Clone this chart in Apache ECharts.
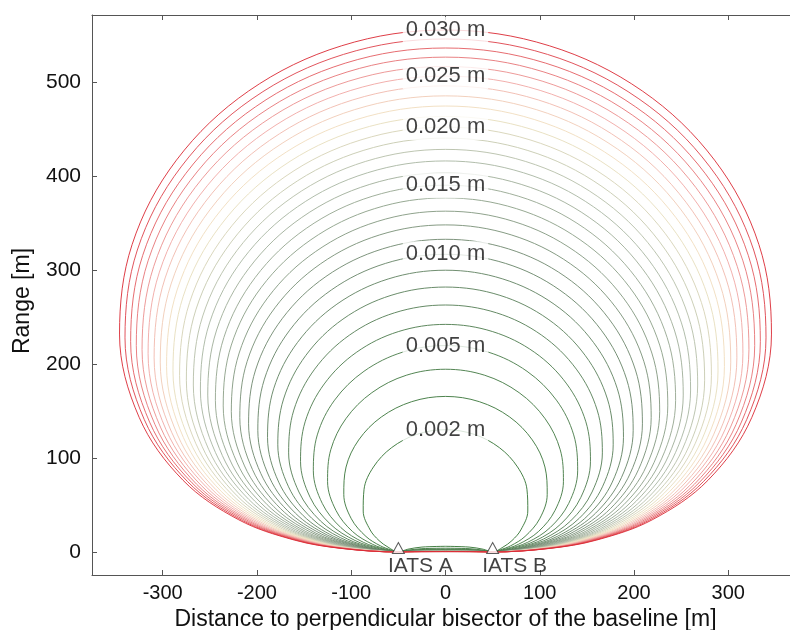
<!DOCTYPE html>
<html><head><meta charset="utf-8">
<script src="https://cdn.jsdelivr.net/npm/echarts@6/dist/echarts.min.js"></script>
<style>html,body{margin:0;padding:0;background:#fff;overflow:hidden}#c{width:790px;height:630px}</style>
</head><body><div id="c"></div>
<script>
// contour levels [m]
const levels = [0.002,0.003,0.004,0.005,0.006,0.007,0.008,0.009,0.010,0.011,0.012,0.013,0.014,0.015,0.016,0.017,0.018,0.019,0.020,0.021,0.022,0.023,0.024,0.025,0.026,0.027,0.028,0.029,0.030];
const labeledLevels = [0.002,0.005,0.010,0.015,0.020,0.025,0.030];
const xTicks = [-300,-200,-100,0,100,200,300];
const yTicks = [0,100,200,300,400,500];
const stationX = [-50, 50];
const stationY = [0, 0];
const stationNames = ['IATS A','IATS B'];
// right half of each contour [x, y] in metres, from the baseline middle to the top
const c002 = [[0,6.0],[25,5.2],[40,2.9],[50,0],[60.9,5.1],[70.5,12.1],[79.9,23.4],[87.3,43.5],[86.4,66.7],[76.4,90.4],[57.2,110.9],[30.6,125.0],[0,130.0]];
const c003 = [[0,4.0],[25,3.5],[40,1.9],[50,0],[57.9,2.2],[69.2,6.6],[84.4,16.5],[99.9,35.3],[107.9,61.2],[105.5,90.3],[92.1,119.1],[68.1,143.5],[35.9,159.8],[0,165.4]];
const c004 = [[0,3.0],[25,2.6],[40,1.4],[50,0],[60.2,2.2],[77.3,8.1],[98.6,21.7],[116.2,44.2],[125.1,74.8],[121.7,108.7],[105.7,141.7],[78.1,169.4],[41.6,187.9],[0,194.3]];
const c005 = [[0,2.4],[25,2.1],[40,1.2],[50,0],[63.7,2.5],[87.2,10.3],[111.1,26.0],[130.7,51.6],[140.2,86.3],[136.0,124.5],[117.7,161.4],[86.5,192.1],[45.7,212.4],[0,219.5]];
const c006 = [[0,2.0],[25,1.7],[40,1.0],[50,0],[55.7,0.7],[70.1,3.4],[96.0,12.2],[122.3,29.7],[143.6,58.1],[153.8,96.4],[148.9,138.4],[128.6,178.7],[94.6,212.2],[50.1,234.3],[0,242.0]];
const c007 = [[0,1.7],[25,1.5],[40,0.8],[50,0],[58.5,1.0],[76.1,4.1],[104.1,13.8],[132.6,32.9],[155.5,63.8],[166.4,105.4],[160.9,150.9],[138.8,194.4],[102.0,230.5],[54.1,254.3],[0,262.6]];
const c008 = [[0,1.5],[25,1.3],[40,0.7],[50,0],[62.0,1.3],[81.6,4.8],[111.7,15.3],[142.0,35.9],[166.5,69.3],[177.9,114.0],[171.8,162.6],[148.1,209.1],[108.8,247.6],[57.7,272.9],[0,281.7]];
const c009 = [[0,1.3],[25,1.2],[40,0.6],[50,0],[60.0,1.0],[86.7,5.4],[118.7,16.6],[150.9,38.6],[176.9,74.2],[188.8,121.8],[182.3,173.5],[157.0,222.8],[115.2,263.5],[60.8,290.3],[0,299.6]];
const c010 = [[0,1.2],[25,1.0],[40,0.6],[50,0],[63.3,1.2],[91.6,6.0],[125.3,17.9],[159.3,41.3],[186.6,79.0],[199.1,129.3],[192.1,183.8],[165.3,235.8],[121.1,278.6],[63.8,306.8],[0,316.5]];
const c011 = [[0,1.1],[25,0.9],[40,0.5],[50,0],[66.5,1.4],[96.2,6.5],[131.6,19.1],[167.3,43.7],[195.9,83.4],[208.9,136.3],[201.5,193.5],[173.3,248.0],[126.9,292.9],[66.8,322.3],[0,332.5]];
const c012 = [[0,1.0],[25,0.9],[40,0.5],[50,0],[69.6,1.6],[100.6,6.9],[137.6,20.1],[174.9,46.0],[204.7,87.5],[218.2,142.9],[210.4,202.7],[180.9,259.7],[132.4,306.5],[69.7,337.2],[0,347.8]];
const c013 = [[0,0.9],[25,0.8],[40,0.4],[50,0],[72.5,1.8],[104.8,7.4],[143.4,21.2],[182.2,48.2],[213.2,91.5],[227.2,149.2],[218.9,211.5],[188.2,270.8],[137.7,319.5],[72.5,351.4],[0,362.4]];
const c014 = [[0,0.9],[25,0.8],[40,0.4],[50,0],[75.3,1.9],[108.9,7.8],[148.9,22.1],[189.2,50.3],[221.3,95.3],[235.8,155.3],[227.2,220.0],[195.3,281.5],[142.8,332.0],[75.2,365.1],[0,376.5]];
const c015 = [[0,0.8],[25,0.7],[40,0.4],[50,0],[78.0,2.1],[112.8,8.2],[154.2,23.1],[196.0,52.3],[229.2,99.0],[244.1,161.1],[235.1,228.1],[202.0,291.7],[147.7,344.1],[77.8,378.2],[0,390.0]];
const c016 = [[0,0.8],[25,0.7],[40,0.4],[50,0],[80.6,2.3],[116.6,8.6],[159.4,24.0],[202.5,54.2],[236.7,102.5],[252.2,166.8],[242.8,236.0],[208.6,301.6],[152.5,355.7],[80.3,390.9],[0,403.1]];
const c017 = [[0,0.7],[25,0.6],[40,0.3],[50,0],[83.1,2.4],[120.2,8.9],[164.4,24.8],[208.8,56.0],[244.1,105.9],[260.0,172.2],[250.3,243.6],[215.0,311.3],[157.1,367.0],[82.8,403.2],[0,415.8]];
const c018 = [[0,0.7],[25,0.6],[40,0.3],[50,0],[85.6,2.5],[123.8,9.3],[169.3,25.7],[215.0,57.8],[251.3,109.2],[267.5,177.5],[257.5,251.0],[221.2,320.6],[161.6,377.9],[85.1,415.2],[0,428.1]];
const c019 = [[0,0.6],[25,0.5],[40,0.3],[50,0],[88.0,2.7],[127.2,9.6],[174.0,26.5],[221.0,59.6],[258.3,112.4],[274.9,182.6],[264.6,258.2],[227.2,329.7],[166.0,388.6],[87.4,426.9],[0,440.1]];
const c020 = [[0,0.6],[25,0.5],[40,0.3],[50,0],[90.3,2.8],[130.6,9.9],[178.6,27.3],[226.8,61.3],[265.0,115.6],[282.1,187.7],[271.5,265.2],[233.1,338.6],[170.3,399.0],[89.7,438.2],[0,451.8]];
const c021 = [[0,0.6],[25,0.5],[40,0.3],[50,0],[92.6,2.9],[133.9,10.2],[183.1,28.0],[232.4,62.9],[271.6,118.6],[289.1,192.5],[278.2,272.0],[238.8,347.1],[174.5,409.0],[92.0,449.2],[0,463.1]];
const c022 = [[0,0.5],[25,0.5],[40,0.3],[50,0],[94.8,3.0],[137.1,10.5],[187.4,28.8],[238.0,64.5],[278.0,121.6],[295.9,197.3],[284.7,278.6],[244.4,355.6],[178.6,418.8],[94.1,459.9],[0,474.2]];
const c023 = [[0,0.5],[25,0.5],[40,0.2],[50,0],[97.0,3.2],[140.2,10.8],[191.7,29.5],[243.4,66.1],[284.3,124.5],[302.6,201.9],[291.1,285.0],[249.9,363.8],[182.7,428.3],[96.3,470.4],[0,485.0]];
const c024 = [[0,0.5],[25,0.4],[40,0.2],[50,0],[99.1,3.3],[143.3,11.1],[195.9,30.2],[248.7,67.6],[290.5,127.3],[309.1,206.4],[297.4,291.4],[255.2,371.8],[186.6,437.7],[98.4,480.7],[0,495.6]];
const c025 = [[0,0.5],[25,0.4],[40,0.2],[50,0],[101.1,3.3],[146.3,11.4],[200.0,30.9],[253.9,69.2],[296.5,130.1],[315.5,210.9],[303.5,297.6],[260.5,379.6],[190.5,446.9],[100.4,490.8],[0,506.0]];
const c026 = [[0,0.5],[25,0.4],[40,0.2],[50,0],[103.2,3.5],[149.2,11.7],[204.0,31.6],[259.0,70.6],[302.4,132.8],[321.9,215.2],[309.5,303.7],[265.7,387.4],[194.3,455.9],[102.5,500.7],[0,516.2]];
const c027 = [[0,0.4],[25,0.4],[40,0.2],[50,0],[105.2,3.5],[152.1,11.9],[207.9,32.3],[264.0,72.0],[308.2,135.5],[328.0,219.4],[315.5,309.6],[270.8,394.9],[198.1,464.7],[104.4,510.4],[0,526.2]];
const c028 = [[0,0.4],[25,0.4],[40,0.2],[50,0],[107.1,3.6],[154.9,12.2],[211.7,32.9],[268.9,73.5],[313.9,138.1],[334.0,223.6],[321.2,315.4],[275.7,402.2],[201.7,473.3],[106.3,519.8],[0,535.9]];
const c029 = [[0,0.4],[25,0.4],[40,0.2],[50,0],[109.0,3.7],[157.7,12.4],[215.5,33.5],[273.6,74.8],[319.5,140.7],[340.0,227.7],[326.9,321.1],[280.5,409.5],[205.2,481.8],[108.2,529.1],[0,545.5]];
const c030 = [[0,0.4],[25,0.3],[40,0.2],[50,0],[110.9,3.8],[160.5,12.7],[219.3,34.2],[278.4,76.2],[325.0,143.2],[345.8,231.7],[332.5,326.8],[285.4,416.7],[208.8,490.2],[110.1,538.3],[0,555.0]];
const contours = [c002,c003,c004,c005,c006,c007,c008,c009,c010,c011,c012,c013,c014,c015,c016,c017,c018,c019,c020,c021,c022,c023,c024,c025,c026,c027,c028,c029,c030];

// ---- styling ----
const FONT = "'Liberation Sans', Arial, Helvetica, sans-serif";
const stops = [[0,50,115,50],[0.3,105,132,105],[0.55,172,184,164],[0.7,240,228,192],[0.82,240,168,165],[1,218,40,50]];
function colorAt(t){
  for(let i=1;i<stops.length;i++){
    if(t<=stops[i][0]){
      const a=stops[i-1], b=stops[i], f=(t-a[0])/(b[0]-a[0]);
      const c=[1,2,3].map(k=>Math.round(a[k]+(b[k]-a[k])*f));
      return 'rgb('+c.join(',')+')';
    }
  }
  const l=stops[stops.length-1]; return 'rgb('+l[1]+','+l[2]+','+l[3]+')';
}
function closedLoop(half){
  const right = half.map(p=>[p[0],p[1]]);
  const left = half.slice(0,half.length-1).reverse().map(p=>[-p[0],p[1]]);
  return right.concat(left);
}
const series = contours.map((half,i)=>({
  type:'line', data: closedLoop(half), showSymbol:false, smooth:0.35, silent:true,
  lineStyle:{width:0.9, color: colorAt(i/(contours.length-1))}, z:2, animation:false
}));
const labelData = labeledLevels.map(lv=>{
  const idx = levels.findIndex(v=>Math.abs(v-lv)<1e-9);
  const h = contours[idx];
  return [h[h.length-1][0], h[h.length-1][1], lv.toFixed(3)+' m'];
});
series.push({
  type:'scatter', data: labelData, symbolSize:1, itemStyle:{color:'rgba(0,0,0,0)'}, silent:true, z:5,
  label:{show:true, position:'inside', formatter:p=>p.data[2], fontSize:22, fontFamily:FONT, color:'#111',
         backgroundColor:'#fff', padding:[2,3,2,3]}
});
series.push({
  type:'scatter', data: stationX.map((x,i)=>({value:[x,stationY[i]], name:stationNames[i]})),
  symbol:'triangle', symbolSize:[12,11], symbolOffset:[0,-4], silent:true, z:6,
  itemStyle:{color:'#fff', borderColor:'#333', borderWidth:1},
  label:{show:true, position:'bottom', distance:2, offset:[22,0], formatter:p=>p.name, fontSize:21, fontFamily:FONT, color:'#111'}
});

const axisCommon = {
  type:'value', splitLine:{show:false},
  axisLine:{show:true, onZero:false, lineStyle:{color:'#555', width:1}},
};
const chart = echarts.init(document.getElementById('c'), null, {renderer:'canvas'});
chart.setOption({
  animation:false,
  backgroundColor:'#fff',
  grid:{left:92, width:707, top:15, bottom:55, containLabel:false, outerBoundsMode:'none'},
  xAxis:[
    Object.assign({}, axisCommon, {min:-375, max:375, position:'bottom',
      axisTick:{show:true, inside:true, length:5, customValues:xTicks, lineStyle:{color:'#555'}},
      axisLabel:{show:true, customValues:xTicks, fontSize:20, fontFamily:FONT, color:'#111', margin:8},
      name:'Distance to perpendicular bisector of the baseline [m]', nameLocation:'middle', nameGap:11,
      nameTextStyle:{fontSize:23, fontFamily:FONT, color:'#111'}}),
    Object.assign({}, axisCommon, {min:-375, max:375, position:'top',
      axisTick:{show:true, inside:true, length:5, customValues:xTicks, lineStyle:{color:'#555'}},
      axisLabel:{show:false}})
  ],
  yAxis:[
    Object.assign({}, axisCommon, {min:-24.5, max:571, position:'left',
      axisTick:{show:true, inside:true, length:5, customValues:yTicks, lineStyle:{color:'#555'}},
      axisLabel:{show:true, customValues:yTicks, fontSize:21, fontFamily:FONT, color:'#111', margin:11},
      name:'Range [m]', nameLocation:'middle', nameGap:58, nameRotate:90,
      nameTextStyle:{fontSize:23, fontFamily:FONT, color:'#111', padding:[0,12,0,0]}}),
    Object.assign({}, axisCommon, {min:-24.5, max:571, position:'right',
      axisTick:{show:true, inside:true, length:5, customValues:yTicks, lineStyle:{color:'#555'}},
      axisLabel:{show:false}})
  ],
  series: series
});
</script></body></html>
